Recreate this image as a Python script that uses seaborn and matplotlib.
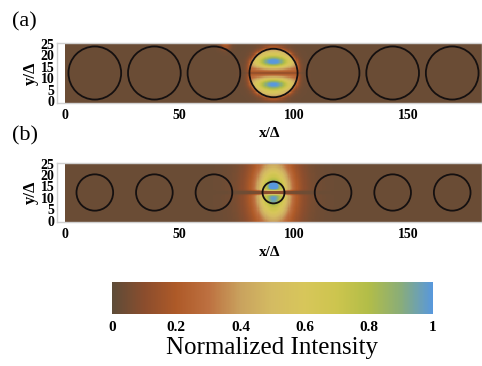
import numpy as np
import matplotlib
matplotlib.use("Agg")
import matplotlib.pyplot as plt
import seaborn as sns
from matplotlib.colors import LinearSegmentedColormap
from matplotlib.patches import Circle

plt.rcParams["font.family"] = ["Liberation Serif", "DejaVu Serif"]

# domain of the waveguide, in units of Delta
x_len, y_len = 182, 26
step = 0.5

# resonators
centres_x = [13, 39, 65, 91, 117, 143, 169]
centre_y = 13
radii_a = [11.5, 11.5, 11.5, 10.5, 11.5, 11.5, 11.5]
radii_b = [8, 8, 8, 4.8, 8, 8, 8]
mode_x = 91

# (a) mode: two lobes above / below a horizontal node line
lobe_dy_a = [5.0, -5.0]
lobe_peak_a = [1.0, 0.97]
lobe_sx_a, lobe_sy_a = 6.0, 4.1
base_a = 0.18
spots_a = [(70, 25.5, 0.18, 1.6)]  # faint leak above the 3rd ring

# (b) mode: small ring, broad halo
lobe_dy_b = [3.2, -3.2]
lobe_peak_b = [0.28, 0.10]
halo_amp_b = [0.60, 0.30]
halo_sx_b = [4.5, 8.0]
halo_sy_b = [8.0, 14.0]

# colour scale
cmap_colors = ["#5e4c38", "#8b4d2d", "#ae5a28", "#bd7040", "#c9a25e", "#d4bb62",
               "#d7c65a", "#cdc54e", "#b2bd48", "#8aad78", "#5898dc"]
cbar_ticks = [0, 0.2, 0.4, 0.6, 0.8, 1]
cbar_labels = ["0", "0.2", "0.4", "0.6", "0.8", "1"]
x_ticks = [0, 50, 100, 150]
y_ticks = [0, 5, 10, 15, 20, 25]

cmap = LinearSegmentedColormap.from_list("nint", cmap_colors)

xs = np.arange(0, x_len, step) + step / 2
ys = np.arange(0, y_len, step) + step / 2
X, Y = np.meshgrid(xs, ys)
dx, dy = X - mode_x, Y - centre_y
r = np.hypot(dx, dy)


def node(w):
    return 1 - np.exp(-(dy / w) ** 2)


# field (a)
lobes = np.zeros_like(X)
for off, pk in zip(lobe_dy_a, lobe_peak_a):
    lobes += pk * np.exp(-dx ** 2 / (2 * lobe_sx_a ** 2)
                         - (np.abs(dy - off) / lobe_sy_a) ** 1.6)
field_a = (base_a + (1 - base_a) * lobes * node(2.2)) * (1 - 0.5 * np.exp(-(dy / 0.5) ** 2))
R = radii_a[3]
field_a = np.where(r > R, field_a * np.exp(-(r - R) / 1.2), field_a)
for sx, sy, amp, w in spots_a:
    field_a += amp * np.exp(-((X - sx) ** 2 + (Y - sy) ** 2) / (2 * w ** 2))
field_a = np.clip(field_a + 0.03, 0, 1)

# field (b)
field_b = np.zeros_like(X)
for amp, sx, sy in zip(halo_amp_b, halo_sx_b, halo_sy_b):
    field_b += amp * np.exp(-dx ** 2 / (2 * sx ** 2) - dy ** 2 / (2 * sy ** 2))
for off, pk in zip(lobe_dy_b, lobe_peak_b):
    field_b += pk * np.exp(-dx ** 2 / (2 * 1.8 ** 2) - (dy - off) ** 2 / (2 * 1.2 ** 2))
field_b = field_b * node(0.8)
field_b = np.clip(field_b + 0.03, 0, 1)

fig = plt.figure(figsize=(4.82, 3.66), dpi=100)
H, W = 366, 482


def px_axes(left, top, right, bottom):
    return fig.add_axes([left / W, 1 - bottom / H, (right - left) / W, (bottom - top) / H])


ax_a = px_axes(57, 43, 482, 103)
ax_b = px_axes(57, 163, 482, 222)
cax = px_axes(112, 282, 433, 314)

sns.heatmap(field_a, ax=ax_a, cmap=cmap, vmin=0, vmax=1, cbar=True, cbar_ax=cax,
            cbar_kws={"orientation": "horizontal", "ticks": cbar_ticks},
            xticklabels=False, yticklabels=False, rasterized=True)
sns.heatmap(field_b, ax=ax_b, cmap=cmap, vmin=0, vmax=1, cbar=False,
            xticklabels=False, yticklabels=False, rasterized=True)

for ax, radii, tag, tag_y in [(ax_a, radii_a, "(a)", 22), (ax_b, radii_b, "(b)", 136)]:
    for cx, rad in zip(centres_x, radii):
        ax.add_patch(Circle((cx / step, centre_y / step), rad / step, fill=False,
                            edgecolor="#151010", linewidth=1.3))
    ax.set_xlim(-3.5 / step, x_len / step)
    ax.set_ylim(0, y_len / step)
    ax.set_aspect("auto")
    ax.set_xticks([v / step for v in x_ticks])
    ax.set_xticklabels([str(v) for v in x_ticks], fontweight="bold", fontsize=10)
    ax.set_yticks([v / step for v in y_ticks])
    ax.set_yticklabels([str(v) for v in y_ticks], fontweight="bold", fontsize=10,
                       rotation=0, va="center")
    ax.tick_params(length=0, pad=2)
    ax.tick_params(axis="x", pad=4)
    ax.set_xlabel("x/Δ", fontweight="bold", fontsize=11, labelpad=4)
    ax.set_ylabel("y/Δ", fontweight="bold", fontsize=12, labelpad=1)
    for s in ax.spines.values():
        s.set_visible(True)
        s.set_color("#d0d0d0")
        s.set_linewidth(1)
    fig.text(12 / W, 1 - tag_y / H, tag, fontsize=16, va="center", ha="left")

cbar = ax_a.collections[0].colorbar
cax.tick_params(length=0, pad=5)
cax.set_xticklabels(cbar_labels, fontweight="bold", fontsize=11)
cax.set_xlabel("Normalized Intensity", fontsize=18, labelpad=2)
cbar.outline.set_edgecolor("#d0d0d0")

fig.savefig("out.png", dpi=100)
